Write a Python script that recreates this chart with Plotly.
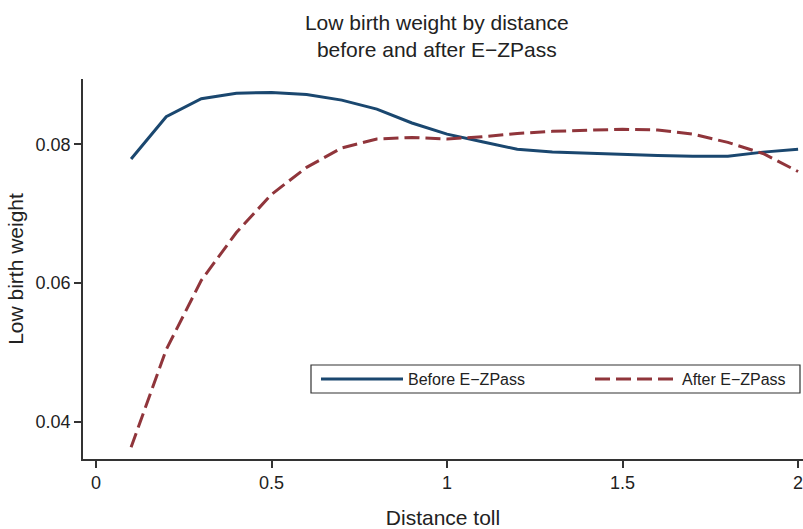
import plotly.graph_objects as go

distance = [0.1, 0.2, 0.3, 0.4, 0.5, 0.6, 0.7, 0.8, 0.9, 1.0,
            1.1, 1.2, 1.3, 1.4, 1.5, 1.6, 1.7, 1.8, 1.9, 2.0]
before = [0.0779, 0.0840, 0.0866, 0.0874, 0.0875, 0.0872, 0.0864, 0.0851, 0.0831, 0.0815,
          0.0804, 0.0793, 0.0789, 0.0787, 0.0786, 0.0784, 0.0783, 0.0783, 0.0789, 0.0793]
after = [0.0363, 0.0504, 0.0604, 0.0673, 0.0728, 0.0767, 0.0795, 0.0808, 0.0810, 0.0808,
         0.0811, 0.0816, 0.0819, 0.0821, 0.0822, 0.0821, 0.0815, 0.0803, 0.0787, 0.0761]
x_ticks = [0, 0.5, 1, 1.5, 2]
x_tick_labels = ["0", "0.5", "1", "1.5", "2"]
y_ticks = [0.04, 0.06, 0.08]
y_tick_labels = ["0.04", "0.06", "0.08"]

FONT = "Liberation Sans, Arial, Helvetica, sans-serif"
TXT = "#222222"

fig = go.Figure()
fig.add_trace(go.Scatter(x=distance, y=before, mode="lines", name="Before E\u2212ZPass",
                         line=dict(color="#1a476f", width=3), legend="legend"))
fig.add_trace(go.Scatter(x=distance, y=after, mode="lines", name="After E\u2212ZPass",
                         line=dict(color="#90353b", width=3, dash="15px,6px"), legend="legend2"))

legend_common = dict(xanchor="left", yanchor="middle", y=0.2105,
                     borderwidth=0, bgcolor="rgba(0,0,0,0)",
                     font=dict(size=16, color=TXT), itemwidth=82)

fig.update_layout(
    width=803, height=529,
    margin=dict(l=83, r=0, t=79, b=70, pad=0),
    paper_bgcolor="white", plot_bgcolor="white",
    font=dict(family=FONT, color=TXT),
    title=dict(text="Low birth weight by distance<br>before and after E\u2212ZPass",
               font=dict(size=21, color=TXT, family=FONT),
               xref="container", x=0.544, xanchor="center",
               yref="container", y=1 - 30 / 529, yanchor="middle"),
    xaxis=dict(range=[-0.037, 2.014], tickvals=x_ticks, ticktext=x_tick_labels,
               showgrid=False, zeroline=False, showline=True, linecolor="#333333", linewidth=1.5,
               ticks="outside", ticklen=7, tickwidth=1.5, tickcolor="#333333",
               tickfont=dict(size=18, color=TXT), automargin=False, ticklabeloverflow="allow",
               title=dict(text="Distance toll", font=dict(size=21, color=TXT), standoff=20)),
    yaxis=dict(range=[0.03462, 0.08945], tickvals=y_ticks, ticktext=y_tick_labels,
               showgrid=False, zeroline=False, showline=True, linecolor="#333333", linewidth=1.5,
               ticks="outside", ticklen=7, tickwidth=1.5, tickcolor="#333333",
               tickfont=dict(size=18, color=TXT), automargin=False,
               title=dict(text="Low birth weight", font=dict(size=21, color=TXT), standoff=6)),
    legend=dict(x=(316 - 83) / 720, **legend_common),
    legend2=dict(x=(590 - 83) / 720, **legend_common),
    shapes=[dict(type="rect", xref="paper", yref="paper",
                 x0=(311 - 83) / 720, x1=(800 - 83) / 720,
                 y0=(459 - 393) / 380, y1=(459 - 365) / 380,
                 line=dict(color="#333333", width=1.2), fillcolor="white", layer="below")],
    showlegend=True,
)

fig.write_html("out.html", config={"displayModeBar": False},
               post_script="document.body.style.margin='0';document.body.style.overflow='hidden';")
